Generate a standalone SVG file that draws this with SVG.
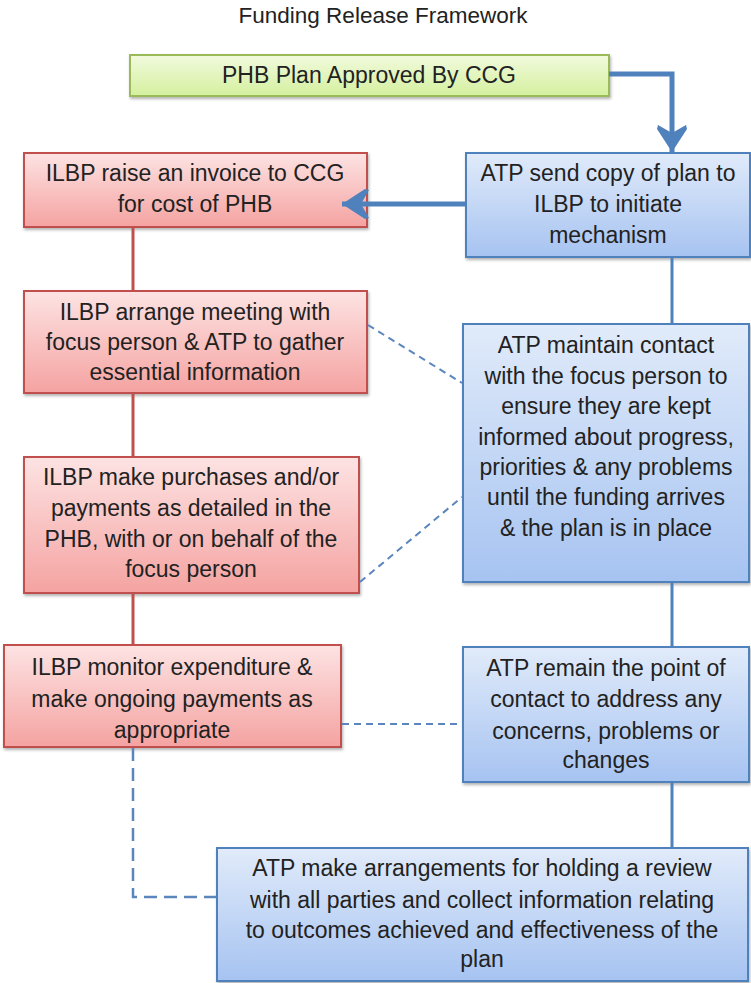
<svg xmlns="http://www.w3.org/2000/svg" width="751" height="983" viewBox="0 0 751 983">
<defs>
<linearGradient id="gRed" x1="0" y1="0" x2="0" y2="1"><stop offset="0" stop-color="#fde3e3"/><stop offset="1" stop-color="#f4a3a1"/></linearGradient>
<linearGradient id="gBlue" x1="0" y1="0" x2="0" y2="1"><stop offset="0" stop-color="#e1ebfa"/><stop offset="1" stop-color="#a6c3f1"/></linearGradient>
<linearGradient id="gGreen" x1="0" y1="0" x2="0" y2="1"><stop offset="0" stop-color="#f2fade"/><stop offset="1" stop-color="#d4f09e"/></linearGradient>
<filter id="sh" x="-10%" y="-10%" width="120%" height="130%"><feDropShadow dx="1" dy="2" stdDeviation="1.5" flood-color="#000" flood-opacity="0.3"/></filter>
<marker id="ah" viewBox="0 0 28 30" refX="27" refY="15" markerWidth="28" markerHeight="30" orient="auto" markerUnits="userSpaceOnUse">
<path d="M0,1 L4,0 L27,15 L4,30 L0,29 L8,15 Z" fill="#4f81bd"/>
</marker>
<style>
.red{fill:url(#gRed);stroke:#c0504d;stroke-width:2;filter:url(#sh)}
.blue{fill:url(#gBlue);stroke:#4f81bd;stroke-width:2;filter:url(#sh)}
.green{fill:url(#gGreen);stroke:#9bbb59;stroke-width:2;filter:url(#sh)}
text{font-family:"Liberation Sans",Arial,sans-serif;font-size:23px;fill:#222;text-anchor:middle}
.title{font-size:22.5px}
.rl{stroke:#c0504d;stroke-width:3;fill:none}
.bl{stroke:#4f81bd;stroke-width:3;fill:none}
.ba{stroke:#4f81bd;stroke-width:5;fill:none}
.dl{stroke:#5b86bd;stroke-width:2;stroke-dasharray:7,5;fill:none}
.dl2{stroke:#5b86bd;stroke-width:2.5;stroke-dasharray:13,7;fill:none}
</style>
</defs>
<rect width="751" height="983" fill="#fff"/>
<text class="title" x="383" y="23">Funding Release Framework</text>
<g id="n-phb"><rect class="green" x="130" y="55" width="479" height="41"/><text x="369" y="83">PHB Plan Approved By CCG</text></g>
<g id="n-invoice"><rect class="red" x="24" y="153" width="343" height="74"/><text x="195" y="181">ILBP raise an invoice to CCG</text><text x="195" y="212">for cost of PHB</text></g>
<g id="n-send"><rect class="blue" x="466" y="153" width="284" height="104"/><text x="608" y="181">ATP send copy of plan to</text><text x="608" y="212">ILBP to initiate</text><text x="608" y="243">mechanism</text></g>
<g id="n-meeting"><rect class="red" x="24" y="291" width="343" height="102"/><text x="195" y="320">ILBP arrange meeting with</text><text x="195" y="350">focus person &amp; ATP to gather</text><text x="195" y="380">essential information</text></g>
<g id="n-contact"><rect class="blue" x="463" y="324" width="286" height="258"/><text x="606" y="353">ATP maintain contact</text><text x="606" y="384">with the focus person to</text><text x="606" y="414">ensure they are kept</text><text x="606" y="445">informed about progress,</text><text x="606" y="475">priorities &amp; any problems</text><text x="606" y="505">until the funding arrives</text><text x="606" y="536">&amp; the plan is in place</text></g>
<g id="n-purchases"><rect class="red" x="24" y="457" width="335" height="136"/><text x="191" y="485">ILBP make purchases and/or</text><text x="191" y="516">payments as detailed in the</text><text x="191" y="547">PHB, with or on behalf of the</text><text x="191" y="577">focus person</text></g>
<g id="n-monitor"><rect class="red" x="4" y="645" width="337" height="102"/><text x="172" y="675">ILBP monitor expenditure &amp;</text><text x="172" y="707">make ongoing payments as</text><text x="172" y="738">appropriate</text></g>
<g id="n-remain"><rect class="blue" x="463" y="647" width="286" height="135"/><text x="606" y="676">ATP remain the point of</text><text x="606" y="707">contact to address any</text><text x="606" y="739">concerns, problems or</text><text x="606" y="768">changes</text></g>
<g id="n-review"><rect class="blue" x="217" y="848" width="531" height="133"/><text x="482" y="876">ATP make arrangements for holding a review</text><text x="482" y="908">with all parties and collect information relating</text><text x="482" y="938">to outcomes achieved and effectiveness of the</text><text x="482" y="967">plan</text></g>
<g id="connectors">
<path class="ba" d="M609,74 H672 V152" marker-end="url(#ah)"/>
<path class="ba" d="M465,204 H342" marker-end="url(#ah)"/>
<path class="rl" d="M133,228 V290"/>
<path class="rl" d="M133,394 V456"/>
<path class="rl" d="M133,594 V644"/>
<path class="bl" d="M672,258 V323"/>
<path class="bl" d="M672,583 V646"/>
<path class="bl" d="M672,783 V847"/>
<path class="dl" d="M368,325 L462,383"/>
<path class="dl" d="M360,582 L462,497"/>
<path class="dl" d="M342,724 H462"/>
<path class="dl2" d="M133,748 V897 H216"/>
</g>
</svg>
